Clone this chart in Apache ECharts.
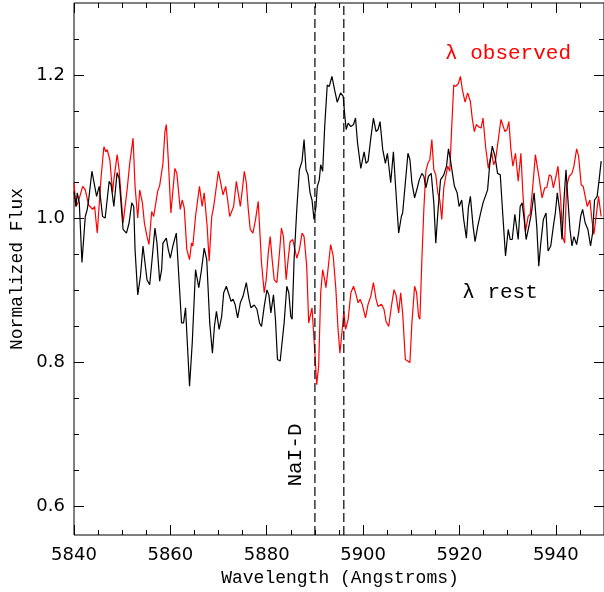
<!DOCTYPE html>
<html><head><meta charset="utf-8">
<script src="https://cdn.jsdelivr.net/npm/echarts@6/dist/echarts.min.js"></script>
<style>html,body{margin:0;padding:0;background:#fff}#c{width:604px;height:592px}</style>
</head><body><div id="c"></div>
<script>
// Rest-frame spectrum (black)
const restWave = [5840.00,5840.41,5840.68,5841.10,5841.65,5842.34,5842.75,5843.04,5843.72,5844.69,
5845.23,5845.93,5846.47,5847.30,5847.71,5848.27,5848.95,5849.36,5850.19,5850.89,
5851.43,5851.99,5852.40,5852.67,5853.23,5853.79,5854.32,5855.15,5855.71,5856.27,
5856.80,5857.22,5857.78,5858.19,5858.46,5859.16,5859.57,5859.99,5860.52,5861.23,
5861.64,5862.32,5862.74,5863.15,5863.98,5864.54,5865.22,5865.90,5866.46,5867.02,
5867.55,5868.17,5868.73,5869.14,5869.56,5870.12,5870.65,5871.07,5871.62,5872.04,
5872.60,5873.01,5873.42,5873.96,5874.52,5875.08,5875.76,5876.32,5876.73,5877.41,
5877.97,5878.51,5878.92,5879.48,5880.04,5880.45,5880.86,5881.40,5881.81,5882.23,
5882.79,5883.20,5883.61,5884.17,5884.58,5885.00,5885.27,5885.68,5886.24,5886.78,
5887.33,5887.75,5888.16,5888.57,5888.99,5889.40,5889.81,5890.23,5890.50,5890.91,
5891.20,5891.61,5892.03,5892.56,5892.98,5893.53,5894.09,5894.63,5895.33,5895.87,
5896.22,5896.49,5896.90,5897.46,5898.02,5898.43,5898.85,5899.53,5900.21,5900.62,
5901.04,5901.60,5902.15,5902.69,5903.10,5903.52,5904.08,5904.63,5905.05,5905.73,
5906.29,5906.83,5907.38,5907.94,5908.21,5908.77,5909.31,5909.72,5910.13,5910.69,
5911.25,5911.66,5912.20,5912.61,5913.03,5913.58,5914.14,5914.68,5915.09,5915.51,
5916.07,5916.75,5917.31,5917.72,5918.13,5918.54,5918.96,5919.52,5919.93,5920.47,
5920.88,5921.44,5921.85,5922.27,5922.82,5923.24,5923.78,5924.33,5924.89,5925.30,
5925.84,5926.25,5926.81,5927.37,5927.91,5928.47,5929.02,5929.56,5930.12,5930.53,
5930.95,5931.50,5932.19,5932.60,5933.01,5933.43,5933.84,5934.40,5934.94,5935.49,
5936.05,5936.46,5936.88,5937.42,5937.97,5938.39,5938.95,5939.48,5939.90,5940.31,
5940.87,5941.28,5941.69,5942.11,5942.52,5942.94,5943.35,5943.76,5944.32,5944.73,
5945.15,5945.56,5946.10,5946.66,5947.21,5947.63,5948.04,5948.58,5948.99,5949.41];
const restFlux = [1.038,1.017,1.036,1.022,0.939,1.003,1.013,1.026,1.066,1.031,
1.045,1.003,1.001,1.052,1.047,1.017,1.064,1.056,0.985,0.980,
0.994,1.022,1.017,0.957,0.894,0.920,0.962,0.915,0.908,0.948,
0.987,0.966,0.913,0.929,0.966,0.973,0.957,0.945,0.962,0.980,
0.978,0.855,0.855,0.876,0.767,0.827,0.929,0.904,0.929,0.959,
0.943,0.855,0.813,0.850,0.871,0.846,0.864,0.897,0.906,0.897,
0.885,0.888,0.881,0.862,0.883,0.892,0.911,0.888,0.876,0.880,
0.874,0.855,0.850,0.878,0.901,0.894,0.869,0.894,0.860,0.804,
0.802,0.800,0.855,0.906,0.897,0.864,0.860,0.943,1.013,1.068,
1.080,1.110,1.068,1.061,1.036,1.026,0.999,1.017,1.045,1.054,
1.075,1.066,1.128,1.186,1.184,1.198,1.179,1.162,1.175,1.170,
1.142,1.124,1.133,1.128,1.131,1.140,1.105,1.070,1.093,1.077,
1.080,1.112,1.140,1.121,1.124,1.135,1.096,1.077,1.091,1.050,
1.093,1.036,0.980,1.003,1.008,1.050,1.091,1.082,1.050,1.029,
1.043,1.054,1.063,1.059,1.043,1.059,1.063,1.022,0.966,1.008,
1.054,1.061,1.073,1.097,1.082,1.063,1.045,1.036,1.017,1.026,
0.999,0.973,1.015,1.031,0.990,0.968,0.989,1.006,1.022,1.024,
1.040,1.073,1.101,1.087,1.063,1.061,1.003,0.948,0.985,0.971,
0.971,1.006,0.971,1.017,1.022,0.999,0.971,0.989,1.008,1.036,
0.989,0.934,0.966,0.999,1.008,0.955,0.962,0.989,1.008,1.036,
1.008,0.971,1.026,1.068,1.026,0.985,0.962,0.975,0.964,0.980,
1.003,1.013,0.994,0.985,0.962,0.980,1.026,1.031,1.054,1.080];

// Observed-frame spectrum (red)
const obsWave = [5840.00,5840.41,5840.83,5841.80,5842.34,5843.04,5843.87,5844.28,5844.82,5845.11,
5845.64,5846.20,5846.61,5846.88,5847.44,5848.00,5848.27,5848.54,5848.95,5849.36,
5849.65,5850.19,5850.60,5851.02,5851.57,5852.26,5852.67,5853.23,5853.64,5854.20,
5854.61,5855.15,5855.56,5856.12,5856.54,5856.80,5857.36,5857.78,5858.46,5858.87,
5859.16,5859.57,5860.11,5860.94,5861.35,5862.05,5862.47,5862.88,5863.42,5863.98,
5864.39,5864.66,5865.22,5866.04,5866.60,5867.02,5867.64,5868.05,5868.59,5869.00,
5869.41,5869.97,5870.53,5870.94,5871.48,5871.89,5872.31,5872.72,5873.13,5873.69,
5873.96,5874.52,5874.93,5875.35,5875.76,5876.17,5876.58,5877.14,5877.68,5878.24,
5878.51,5878.92,5879.48,5879.89,5880.31,5880.72,5881.13,5881.55,5882.10,5882.64,
5883.05,5883.47,5884.03,5884.44,5884.85,5885.41,5886.24,5886.78,5887.33,5887.75,
5888.30,5888.71,5888.99,5889.40,5889.81,5890.08,5890.37,5890.78,5891.20,5891.61,
5892.03,5892.29,5892.71,5893.27,5893.80,5894.36,5894.77,5895.19,5895.60,5896.01,
5896.37,5896.90,5897.46,5898.02,5898.43,5898.97,5899.38,5899.80,5900.50,5901.04,
5901.60,5902.15,5902.69,5903.10,5903.81,5904.34,5904.76,5905.32,5905.87,5906.41,
5906.83,5907.38,5907.80,5908.21,5908.77,5909.18,5909.72,5910.13,5910.69,5911.10,
5911.52,5911.79,5912.20,5912.61,5913.03,5913.44,5913.85,5914.27,5914.68,5915.09,
5915.51,5915.92,5916.33,5916.75,5917.16,5917.57,5917.99,5918.40,5918.81,5919.23,
5919.78,5920.20,5920.61,5921.17,5921.70,5922.27,5922.68,5923.09,5923.51,5923.92,
5924.48,5924.89,5925.43,5925.99,5926.67,5927.09,5927.50,5928.06,5928.61,5929.02,
5929.44,5929.85,5930.26,5930.68,5931.09,5931.63,5932.19,5932.75,5933.16,5933.70,
5934.25,5934.67,5935.22,5935.76,5936.17,5936.59,5937.15,5937.70,5938.12,5938.65,
5939.07,5939.48,5940.04,5940.45,5941.01,5941.42,5941.83,5942.24,5942.79,5943.35,
5943.76,5944.32,5944.73,5945.27,5945.69,5946.10,5946.51,5947.07,5947.48,5947.90,
5948.45,5948.87,5949.41];
const obsFlux = [1.050,1.017,1.022,1.045,1.040,1.019,1.013,1.017,0.980,0.980,
1.059,1.100,1.093,1.096,1.082,1.036,1.054,1.052,1.089,1.068,
1.069,0.994,0.994,1.040,1.077,1.112,1.045,1.001,1.040,1.022,
0.994,0.975,0.964,1.010,1.003,1.003,1.038,1.046,1.077,1.121,
1.131,1.082,1.008,1.070,1.063,1.013,1.026,1.015,0.957,0.943,
0.966,0.962,1.003,1.045,1.017,1.036,0.989,0.941,1.003,1.017,
1.019,1.066,1.047,1.033,1.045,1.026,1.003,1.001,1.017,1.052,
1.050,1.017,1.040,1.066,1.050,1.013,0.985,0.980,0.999,1.024,
1.022,0.938,0.897,0.915,0.952,0.975,0.943,0.915,0.911,0.952,
0.987,0.975,0.915,0.943,0.968,0.971,0.945,0.957,0.980,0.975,
0.934,0.855,0.855,0.876,0.874,0.804,0.769,0.795,0.897,0.929,
0.915,0.904,0.929,0.964,0.948,0.901,0.850,0.813,0.841,0.871,
0.846,0.860,0.897,0.906,0.897,0.883,0.888,0.881,0.862,0.881,
0.892,0.911,0.888,0.878,0.881,0.874,0.857,0.850,0.878,0.901,
0.894,0.869,0.897,0.869,0.804,0.802,0.800,0.855,0.906,0.897,
0.864,0.860,0.943,1.013,1.066,1.077,1.082,1.110,1.068,1.061,
1.036,1.026,0.999,1.043,1.059,1.073,1.066,1.128,1.186,1.184,
1.188,1.198,1.179,1.162,1.175,1.163,1.138,1.121,1.131,1.128,
1.126,1.140,1.100,1.070,1.093,1.075,1.082,1.110,1.138,1.140,
1.121,1.124,1.135,1.096,1.073,1.091,1.052,1.091,1.036,0.982,
1.003,1.006,1.045,1.089,1.091,1.054,1.029,1.043,1.043,1.061,
1.059,1.043,1.059,1.073,1.026,0.975,0.966,1.045,1.059,1.063,
1.073,1.097,1.087,1.047,1.045,1.031,1.017,1.026,0.999,0.978,
1.008,1.031,1.003];

// Na I D lines (rest wavelengths)
const naD = [5890.0, 5896.0];

// Ticks
const xMajor = [5840, 5860, 5880, 5900, 5920, 5940];
const xMinor = [5845,5850,5855,5865,5870,5875,5885,5890,5895,5905,5910,5915,5925,5930,5935,5945];
const yMajor = [0.6, 0.8, 1.0, 1.2];
const yMinor = [0.65,0.7,0.75,0.85,0.9,0.95,1.05,1.1,1.15,1.25];

const X_MIN = 5840, X_MAX = 5950, Y_MIN = 0.56, Y_MAX = 1.30;

const chart = echarts.init(document.getElementById('c'), null, {renderer: 'canvas'});

function axisBase(extra) {
  return Object.assign({
    type: 'value',
    axisLine: {show: false, onZero: false},
    splitLine: {show: false},
    axisLabel: {show: false},
    axisTick: {show: true, inside: true, length: 10, lineStyle: {color: '#000', width: 1}},
  }, extra);
}
const xBase = {min: X_MIN, max: X_MAX};
const yBase = {min: Y_MIN, max: Y_MAX};
const tickFont = {fontFamily: 'DejaVu Sans', fontSize: 18, color: '#000'};

const xAxis = [
  axisBase(Object.assign({}, xBase, {position: 'bottom',
    axisTick: {show: true, inside: true, length: 10, customValues: xMajor, lineStyle: {color: '#000'}},
    axisLabel: Object.assign({show: true, margin: 11, customValues: xMajor, formatter: v => String(Math.round(v))}, tickFont)})),
  axisBase(Object.assign({}, xBase, {position: 'top',
    axisTick: {show: true, inside: true, length: 10, customValues: xMajor, lineStyle: {color: '#000'}}})),
  axisBase(Object.assign({}, xBase, {position: 'bottom',
    axisTick: {show: true, inside: true, length: 5, customValues: xMinor, lineStyle: {color: '#000'}}})),
  axisBase(Object.assign({}, xBase, {position: 'top',
    axisTick: {show: true, inside: true, length: 5, customValues: xMinor, lineStyle: {color: '#000'}}}))
];
const yAxis = [
  axisBase(Object.assign({}, yBase, {position: 'left',
    axisTick: {show: true, inside: true, length: 10, customValues: yMajor, lineStyle: {color: '#000'}},
    axisLabel: Object.assign({show: true, margin: 9, customValues: yMajor, formatter: v => v.toFixed(1)}, tickFont)})),
  axisBase(Object.assign({}, yBase, {position: 'right',
    axisTick: {show: true, inside: true, length: 10, customValues: yMajor, lineStyle: {color: '#000'}}})),
  axisBase(Object.assign({}, yBase, {position: 'left',
    axisTick: {show: true, inside: true, length: 5, customValues: yMinor, lineStyle: {color: '#000'}}})),
  axisBase(Object.assign({}, yBase, {position: 'right',
    axisTick: {show: true, inside: true, length: 5, customValues: yMinor, lineStyle: {color: '#000'}}}))
];

const restData = restWave.map((w, i) => [w, restFlux[i]]);
const obsData = obsWave.map((w, i) => [w, obsFlux[i]]);

const series = [
  {type: 'line', data: restData, showSymbol: false, symbol: 'none', lineStyle: {color: '#000', width: 1.2}, z: 3},
  {type: 'line', data: obsData, showSymbol: false, symbol: 'none', lineStyle: {color: '#ff0000', width: 1.2}, z: 2}
];
naD.forEach(w => series.push({
  type: 'line', data: [[w, Y_MIN], [w, Y_MAX]], showSymbol: false, symbol: 'none',
  lineStyle: {color: '#000', width: 1.2, type: [9, 4]}, z: 4
}));

const serifMono = 'Liberation Mono';
chart.setOption({
  animation: false,
  backgroundColor: '#fff',
  grid: {left: 74, top: 3, width: 532, height: 532, show: true, borderColor: '#000', borderWidth: 1, containLabel: false},
  xAxis: xAxis,
  yAxis: yAxis,
  series: series,
  graphic: [
    {type: 'text', x: 340, y: 578, style: {text: 'Wavelength (Angstroms)', fill: '#000', font: '18px "' + serifMono + '"', align: 'center', verticalAlign: 'middle'}},
    {type: 'text', x: 17, y: 269, rotation: Math.PI / 2, style: {text: 'Normalized Flux', fill: '#000', font: '18px "' + serifMono + '"', align: 'center', verticalAlign: 'middle'}},
    {type: 'text', x: 508, y: 53, style: {text: 'λ observed', fill: '#ff0000', font: '21px "' + serifMono + '"', align: 'center', verticalAlign: 'middle'}},
    {type: 'text', x: 500, y: 292, style: {text: 'λ rest', fill: '#000', font: '21px "' + serifMono + '"', align: 'center', verticalAlign: 'middle'}},
    {type: 'text', x: 295, y: 455, rotation: Math.PI / 2, style: {text: 'NaI-D', fill: '#000', font: '21px "' + serifMono + '"', align: 'center', verticalAlign: 'middle'}}
  ]
});
</script></body></html>
